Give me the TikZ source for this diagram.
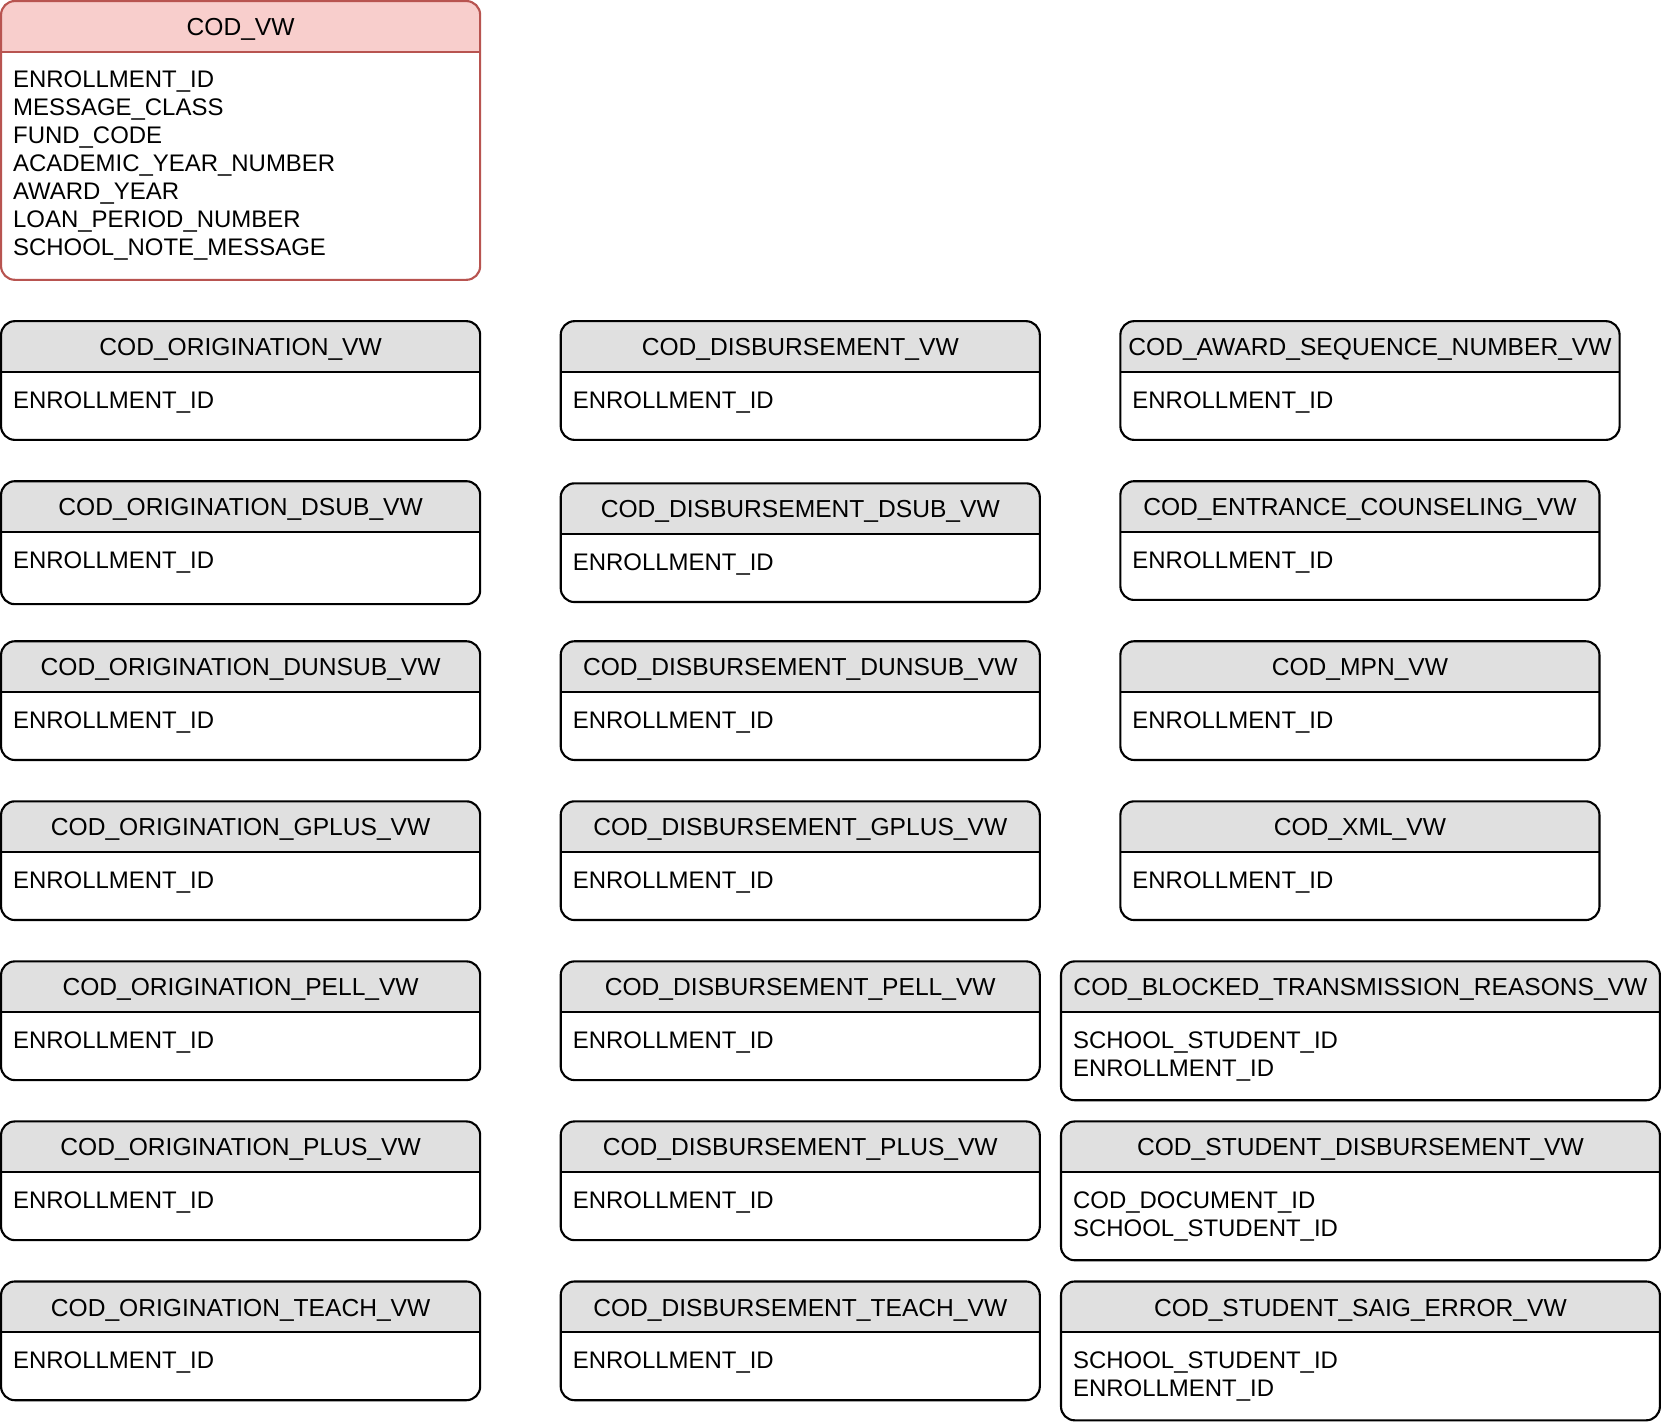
\documentclass[tikz,border=0pt]{standalone}
\usepackage{fontspec}
\setmainfont{Liberation Sans}
\usetikzlibrary{positioning}
\definecolor{headgray}{HTML}{E0E0E0}
\definecolor{headpink}{HTML}{F8CECC}
\definecolor{borderred}{HTML}{B85450}

\begin{document}
\begin{tikzpicture}[x=0.5pt,y=-0.5pt,
	tbl/.style={draw=black,line width=1pt,rounded corners=6.5pt,fill=white,inner sep=0pt,outer sep=0pt,anchor=north west,minimum width=226pt,minimum height=56pt,
		path picture={\fill[#1,sharp corners] (path picture bounding box.north west) rectangle ([yshift=-24pt]path picture bounding box.north east);}},
	tbl/.default=headgray,
	ttl/.style={inner sep=0pt,minimum height=24pt,text height=8.2pt,text depth=0pt,font=\fontsize{11.6pt}{13.2pt}\selectfont},
	fld/.style={inner sep=0pt,align=left,font=\fontsize{11.3pt}{13.15pt}\selectfont},
	sep/.style={line width=1pt}]
	\useasboundingbox (0,0) rectangle (1568,1347.2);

	% main view
	\node [tbl=headpink,draw=borderred,minimum height=131.5pt] at (1,1) (vw) {};
	\node [ttl,below=0pt of vw.north] (vw_t) {COD\_VW};
	\draw [sep,borderred] ([yshift=-24pt]vw.north west) -- ([yshift=-24pt]vw.north east);
	\node [fld,below right=32.9pt and 5.5pt of vw.north west] (vw_f) {ENROLLMENT\_ID\\MESSAGE\_CLASS\\FUND\_CODE\\ACADEMIC\_YEAR\_NUMBER\\AWARD\_YEAR\\LOAN\_PERIOD\_NUMBER\\SCHOOL\_NOTE\_MESSAGE};

	% origination views
	\node [tbl] at (1,303) (orig) {};
	\node [ttl,below=0pt of orig.north] (orig_t) {COD\_ORIGINATION\_VW};
	\draw [sep] ([yshift=-24pt]orig.north west) -- ([yshift=-24pt]orig.north east);
	\node [fld,below right=32.9pt and 5.5pt of orig.north west] (orig_f) {ENROLLMENT\_ID};

	\node [tbl,minimum height=58pt] at (1,454) (orig_dsub) {};
	\node [ttl,below=0pt of orig_dsub.north] (orig_dsub_t) {COD\_ORIGINATION\_DSUB\_VW};
	\draw [sep] ([yshift=-24pt]orig_dsub.north west) -- ([yshift=-24pt]orig_dsub.north east);
	\node [fld,below right=32.9pt and 5.5pt of orig_dsub.north west] (orig_dsub_f) {ENROLLMENT\_ID};

	\node [tbl] at (1,605) (orig_dunsub) {};
	\node [ttl,below=0pt of orig_dunsub.north] (orig_dunsub_t) {COD\_ORIGINATION\_DUNSUB\_VW};
	\draw [sep] ([yshift=-24pt]orig_dunsub.north west) -- ([yshift=-24pt]orig_dunsub.north east);
	\node [fld,below right=32.9pt and 5.5pt of orig_dunsub.north west] (orig_dunsub_f) {ENROLLMENT\_ID};

	\node [tbl] at (1,756) (orig_gplus) {};
	\node [ttl,below=0pt of orig_gplus.north] (orig_gplus_t) {COD\_ORIGINATION\_GPLUS\_VW};
	\draw [sep] ([yshift=-24pt]orig_gplus.north west) -- ([yshift=-24pt]orig_gplus.north east);
	\node [fld,below right=32.9pt and 5.5pt of orig_gplus.north west] (orig_gplus_f) {ENROLLMENT\_ID};

	\node [tbl] at (1,907) (orig_pell) {};
	\node [ttl,below=0pt of orig_pell.north] (orig_pell_t) {COD\_ORIGINATION\_PELL\_VW};
	\draw [sep] ([yshift=-24pt]orig_pell.north west) -- ([yshift=-24pt]orig_pell.north east);
	\node [fld,below right=32.9pt and 5.5pt of orig_pell.north west] (orig_pell_f) {ENROLLMENT\_ID};

	\node [tbl] at (1,1058) (orig_plus) {};
	\node [ttl,below=0pt of orig_plus.north] (orig_plus_t) {COD\_ORIGINATION\_PLUS\_VW};
	\draw [sep] ([yshift=-24pt]orig_plus.north west) -- ([yshift=-24pt]orig_plus.north east);
	\node [fld,below right=32.9pt and 5.5pt of orig_plus.north west] (orig_plus_f) {ENROLLMENT\_ID};

	\node [tbl] at (1,1209) (orig_teach) {};
	\node [ttl,below=0pt of orig_teach.north] (orig_teach_t) {COD\_ORIGINATION\_TEACH\_VW};
	\draw [sep] ([yshift=-24pt]orig_teach.north west) -- ([yshift=-24pt]orig_teach.north east);
	\node [fld,below right=32.9pt and 5.5pt of orig_teach.north west] (orig_teach_f) {ENROLLMENT\_ID};

	% disbursement views
	\node [tbl] at (529,303) (disb) {};
	\node [ttl,below=0pt of disb.north] (disb_t) {COD\_DISBURSEMENT\_VW};
	\draw [sep] ([yshift=-24pt]disb.north west) -- ([yshift=-24pt]disb.north east);
	\node [fld,below right=32.9pt and 5.5pt of disb.north west] (disb_f) {ENROLLMENT\_ID};

	\node [tbl] at (529,456) (disb_dsub) {};
	\node [ttl,below=0pt of disb_dsub.north] (disb_dsub_t) {COD\_DISBURSEMENT\_DSUB\_VW};
	\draw [sep] ([yshift=-24pt]disb_dsub.north west) -- ([yshift=-24pt]disb_dsub.north east);
	\node [fld,below right=32.9pt and 5.5pt of disb_dsub.north west] (disb_dsub_f) {ENROLLMENT\_ID};

	\node [tbl] at (529,605) (disb_dunsub) {};
	\node [ttl,below=0pt of disb_dunsub.north] (disb_dunsub_t) {COD\_DISBURSEMENT\_DUNSUB\_VW};
	\draw [sep] ([yshift=-24pt]disb_dunsub.north west) -- ([yshift=-24pt]disb_dunsub.north east);
	\node [fld,below right=32.9pt and 5.5pt of disb_dunsub.north west] (disb_dunsub_f) {ENROLLMENT\_ID};

	\node [tbl] at (529,756) (disb_gplus) {};
	\node [ttl,below=0pt of disb_gplus.north] (disb_gplus_t) {COD\_DISBURSEMENT\_GPLUS\_VW};
	\draw [sep] ([yshift=-24pt]disb_gplus.north west) -- ([yshift=-24pt]disb_gplus.north east);
	\node [fld,below right=32.9pt and 5.5pt of disb_gplus.north west] (disb_gplus_f) {ENROLLMENT\_ID};

	\node [tbl] at (529,907) (disb_pell) {};
	\node [ttl,below=0pt of disb_pell.north] (disb_pell_t) {COD\_DISBURSEMENT\_PELL\_VW};
	\draw [sep] ([yshift=-24pt]disb_pell.north west) -- ([yshift=-24pt]disb_pell.north east);
	\node [fld,below right=32.9pt and 5.5pt of disb_pell.north west] (disb_pell_f) {ENROLLMENT\_ID};

	\node [tbl] at (529,1058) (disb_plus) {};
	\node [ttl,below=0pt of disb_plus.north] (disb_plus_t) {COD\_DISBURSEMENT\_PLUS\_VW};
	\draw [sep] ([yshift=-24pt]disb_plus.north west) -- ([yshift=-24pt]disb_plus.north east);
	\node [fld,below right=32.9pt and 5.5pt of disb_plus.north west] (disb_plus_f) {ENROLLMENT\_ID};

	\node [tbl] at (529,1209) (disb_teach) {};
	\node [ttl,below=0pt of disb_teach.north] (disb_teach_t) {COD\_DISBURSEMENT\_TEACH\_VW};
	\draw [sep] ([yshift=-24pt]disb_teach.north west) -- ([yshift=-24pt]disb_teach.north east);
	\node [fld,below right=32.9pt and 5.5pt of disb_teach.north west] (disb_teach_f) {ENROLLMENT\_ID};

	% other views
	\node [tbl,minimum width=235.5pt] at (1057,303) (award) {};
	\node [ttl,below=0pt of award.north] (award_t) {COD\_AWARD\_SEQUENCE\_NUMBER\_VW};
	\draw [sep] ([yshift=-24pt]award.north west) -- ([yshift=-24pt]award.north east);
	\node [fld,below right=32.9pt and 5.5pt of award.north west] (award_f) {ENROLLMENT\_ID};

	\node [tbl] at (1057,454) (entr) {};
	\node [ttl,below=0pt of entr.north] (entr_t) {COD\_ENTRANCE\_COUNSELING\_VW};
	\draw [sep] ([yshift=-24pt]entr.north west) -- ([yshift=-24pt]entr.north east);
	\node [fld,below right=32.9pt and 5.5pt of entr.north west] (entr_f) {ENROLLMENT\_ID};

	\node [tbl] at (1057,605) (mpn) {};
	\node [ttl,below=0pt of mpn.north] (mpn_t) {COD\_MPN\_VW};
	\draw [sep] ([yshift=-24pt]mpn.north west) -- ([yshift=-24pt]mpn.north east);
	\node [fld,below right=32.9pt and 5.5pt of mpn.north west] (mpn_f) {ENROLLMENT\_ID};

	\node [tbl] at (1057,756) (xml) {};
	\node [ttl,below=0pt of xml.north] (xml_t) {COD\_XML\_VW};
	\draw [sep] ([yshift=-24pt]xml.north west) -- ([yshift=-24pt]xml.north east);
	\node [fld,below right=32.9pt and 5.5pt of xml.north west] (xml_f) {ENROLLMENT\_ID};

	\node [tbl,minimum width=282.5pt,minimum height=65.5pt] at (1001,907) (blocked) {};
	\node [ttl,below=0pt of blocked.north] (blocked_t) {COD\_BLOCKED\_TRANSMISSION\_REASONS\_VW};
	\draw [sep] ([yshift=-24pt]blocked.north west) -- ([yshift=-24pt]blocked.north east);
	\node [fld,below right=32.9pt and 5.5pt of blocked.north west] (blocked_f) {SCHOOL\_STUDENT\_ID\\ENROLLMENT\_ID};

	\node [tbl,minimum width=282.5pt,minimum height=65.5pt] at (1001,1058) (stud_disb) {};
	\node [ttl,below=0pt of stud_disb.north] (stud_disb_t) {COD\_STUDENT\_DISBURSEMENT\_VW};
	\draw [sep] ([yshift=-24pt]stud_disb.north west) -- ([yshift=-24pt]stud_disb.north east);
	\node [fld,below right=32.9pt and 5.5pt of stud_disb.north west] (stud_disb_f) {COD\_DOCUMENT\_ID\\SCHOOL\_STUDENT\_ID};

	\node [tbl,minimum width=282.5pt,minimum height=65.5pt] at (1001,1209) (saig_err) {};
	\node [ttl,below=0pt of saig_err.north] (saig_err_t) {COD\_STUDENT\_SAIG\_ERROR\_VW};
	\draw [sep] ([yshift=-24pt]saig_err.north west) -- ([yshift=-24pt]saig_err.north east);
	\node [fld,below right=32.9pt and 5.5pt of saig_err.north west] (saig_err_f) {SCHOOL\_STUDENT\_ID\\ENROLLMENT\_ID};
\end{tikzpicture}
\end{document}
